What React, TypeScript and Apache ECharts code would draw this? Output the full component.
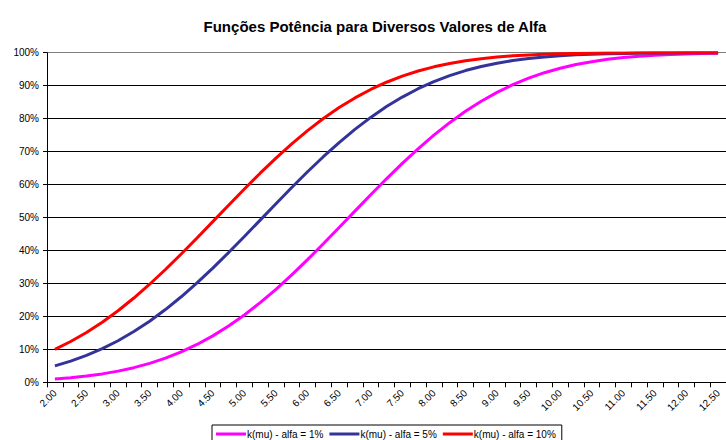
import React, { useEffect, useRef } from "react";
import * as echarts from "echarts";

const categories = [
  "2.00", "2.25", "2.50", "2.75", "3.00", "3.25", "3.50", "3.75", "4.00", "4.25",
  "4.50", "4.75", "5.00", "5.25", "5.50", "5.75", "6.00", "6.25", "6.50", "6.75",
  "7.00", "7.25", "7.50", "7.75", "8.00", "8.25", "8.50", "8.75", "9.00", "9.25",
  "9.50", "9.75", "10.00", "10.25", "10.50", "10.75", "11.00", "11.25", "11.50", "11.75",
  "12.00", "12.25", "12.50",
];

const alpha1 = [
  0.0100, 0.0139, 0.0189, 0.0255, 0.0339, 0.0444, 0.0575, 0.0733, 0.0924, 0.1148,
  0.1409, 0.1707, 0.2043, 0.2416, 0.2822, 0.3259, 0.3721, 0.4202, 0.4696, 0.5194,
  0.5690, 0.6174, 0.6641, 0.7084, 0.7497, 0.7877, 0.8222, 0.8529, 0.8797, 0.9030,
  0.9227, 0.9393, 0.9529, 0.9640, 0.9728, 0.9798, 0.9851, 0.9892, 0.9923, 0.9946,
  0.9962, 0.9974, 0.9983,
];

const alpha5 = [
  0.0500, 0.0643, 0.0816, 0.1020, 0.1261, 0.1540, 0.1854, 0.2207, 0.2595, 0.3016,
  0.3465, 0.3936, 0.4424, 0.4921, 0.5418, 0.5910, 0.6387, 0.6844, 0.7274, 0.7673,
  0.8037, 0.8365, 0.8654, 0.8907, 0.9123, 0.9306, 0.9458, 0.9582, 0.9682, 0.9761,
  0.9824, 0.9871, 0.9907, 0.9934, 0.9954, 0.9968, 0.9978, 0.9986, 0.9990, 0.9994,
  0.9996, 0.9997, 0.9998,
];

const alpha10 = [
  0.1000, 0.1237, 0.1511, 0.1823, 0.2172, 0.2557, 0.2975, 0.3422, 0.3891, 0.4378,
  0.4874, 0.5372, 0.5864, 0.6344, 0.6802, 0.7235, 0.7637, 0.8005, 0.8336, 0.8628,
  0.8885, 0.9104, 0.9290, 0.9445, 0.9571, 0.9674, 0.9755, 0.9818, 0.9867, 0.9904,
  0.9932, 0.9952, 0.9967, 0.9978, 0.9985, 0.9990, 0.9994, 0.9996, 0.9997, 0.9998,
  0.9999, 0.9999, 1.0000,
];

const seriesNames = ["k(mu) - alfa = 1%", "k(mu) - alfa = 5%", "k(mu) - alfa = 10%"];
const seriesColors = ["#FF00FF", "#333399", "#FF0000"];

const FONT = "'Liberation Sans', Arial, sans-serif";

export default function App() {
  const ref = useRef<HTMLDivElement>(null);

  useEffect(() => {
    if (!ref.current) return;
    const chart = echarts.init(ref.current, undefined, { renderer: "svg" });
    const data = [alpha1, alpha5, alpha10];
    chart.setOption({
      animation: false,
      backgroundColor: "#ffffff",
      title: {
        text: "Funções Potência para Diversos Valores de Alfa",
        left: 370,
        top: 14,
        textAlign: "center",
        textStyle: {
          fontFamily: FONT,
          fontSize: 15,
          fontWeight: "bold",
          color: "#000",
        },
      },
      legend: {
        left: 212,
        top: 425,
        padding: [4, 6, 4, 4],
        itemGap: 6,
        itemWidth: 30,
        itemHeight: 3,
        icon: "rect",
        borderColor: "#000",
        borderWidth: 1,
        textStyle: { fontFamily: FONT, fontSize: 10, color: "#000", padding: [0, 0, 0, -4] },
        data: seriesNames,
      },
      grid: {
        left: 47,
        right: -7,
        top: 52.7,
        bottom: 57.7,
        containLabel: false,
      },
      xAxis: {
        type: "category",
        data: categories,
        boundaryGap: true,
        axisLine: { show: true, lineStyle: { color: "#000", width: 1 } },
        axisTick: { show: true, interval: 0, length: 5, lineStyle: { color: "#000" } },
        axisLabel: {
          interval: 1,
          rotate: 45,
          margin: 9,
          fontFamily: FONT,
          fontSize: 10,
          color: "#000",
        },
        splitLine: { show: false },
      },
      yAxis: {
        type: "value",
        min: 0,
        max: 1,
        interval: 0.1,
        axisLine: { show: true, lineStyle: { color: "#000", width: 1 } },
        axisTick: { show: true, length: 4, lineStyle: { color: "#000" } },
        axisLabel: {
          margin: 8,
          fontFamily: FONT,
          fontSize: 10,
          color: "#000",
          formatter: (v: number) => `${Math.round(v * 100)}%`,
        },
        splitLine: {
          show: true,
          lineStyle: {
            color: ["#000", "#000", "#000", "#000", "#000", "#000", "#000", "#000", "#000", "#000", "#808080"],
            width: 1,
          },
        },
      },
      series: seriesNames.map((name, k) => ({
        name,
        type: "line",
        data: data[k],
        symbol: "none",
        smooth: false,
        color: seriesColors[k],
        lineStyle: { color: seriesColors[k], width: 3 },
      })),
    });
    return () => chart.dispose();
  }, []);

  return (
    <div
      ref={ref}
      style={{ position: "absolute", left: 0, top: 0, width: 726, height: 440, background: "#fff" }}
    />
  );
}
